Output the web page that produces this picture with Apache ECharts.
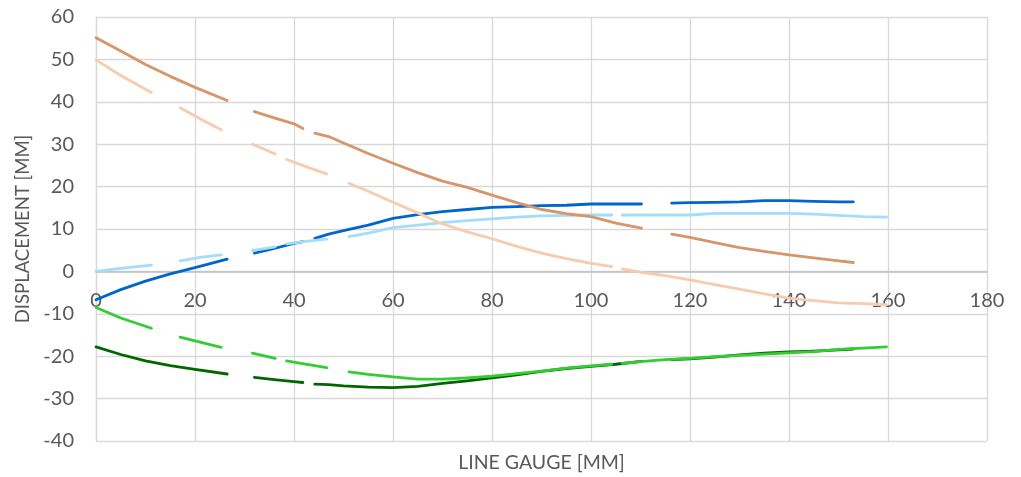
<!DOCTYPE html>
<html>
<head>
<meta charset="utf-8">
<script src="https://cdn.jsdelivr.net/npm/echarts@6/dist/echarts.min.js"></script>
<style>
  html, body { margin: 0; padding: 0; background: #ffffff; }
  #chart { width: 1021px; height: 477px; }
</style>
</head>
<body>
<div id="chart"></div>
<script>
// x positions (mm) for the dark-coloured gauges; null entries in y arrays mark gaps
const xDark = [0, 5, 10, 15, 20, 26.5, 29, 32, 36, 40, 41.8, 43, 44.2, 47, 50, 55, 60, 65, 70, 75, 80, 85, 90, 95, 100, 105, 110.2, 113, 116.3, 120, 125, 130, 135, 140, 145, 150, 153];
const yOrange = [55.1, 52, 48.8, 46, 43.4, 40.3, null, 37.7, 36.2, 34.8, 33.7, null, 32.6, 31.8, 30.3, 27.8, 25.5, 23.3, 21.3, 19.8, 18.0, 16.2, 14.6, 13.6, 12.9, 11.4, 10.2, null, 8.8, 8.0, 6.8, 5.6, 4.7, 3.9, 3.2, 2.5, 2.1];
const yBlue = [-6.7, -4.3, -2.3, -0.6, 0.9, 2.9, null, 4.3, 5.4, 6.6, 7.0, null, 7.8, 8.8, 9.6, 10.9, 12.5, 13.4, 14.1, 14.6, 15.1, 15.3, 15.5, 15.6, 15.9, 15.9, 15.9, null, 16.1, 16.2, 16.3, 16.4, 16.7, 16.7, 16.5, 16.4, 16.4];
const yDarkGreen = [-17.8, -19.6, -21.1, -22.2, -23.1, -24.2, null, -25.0, -25.5, -26.0, -26.2, null, -26.6, -26.7, -27.0, -27.3, -27.4, -27.1, -26.4, -25.8, -25.1, -24.4, -23.6, -22.9, -22.4, -21.9, -21.2, null, -20.8, -20.6, -20.2, -19.7, -19.3, -19.0, -18.8, -18.5, -18.3];

// x positions (mm) for the light-coloured gauges
const xLight = [0, 5, 11.2, 14, 17, 21, 25.3, 28.5, 31.6, 34, 36.2, 37.3, 38.5, 42, 46.6, 49, 51.1, 55, 60, 65, 70, 75, 80, 85, 90, 95, 100, 104.2, 105.2, 106.3, 110, 115, 120, 125, 130, 135, 140, 145, 150, 155, 159.7];
const yLightOrange = [49.9, 46.2, 42.2, null, 38.6, 36, 33.4, null, 30.0, 28.8, 27.7, null, 26.4, 24.9, 23.0, null, 20.8, 18.9, 16.3, 13.8, 11.2, 9.3, 7.7, 5.9, 4.3, 3.0, 1.9, 1.1, null, 0.6, -0.2, -1.0, -2.0, -3.1, -4.2, -5.3, -6.3, -6.9, -7.4, -7.6, -7.9];
const yLightBlue = [0, 0.7, 1.5, null, 2.5, 3.3, 3.9, null, 4.9, 5.4, 5.8, null, 6.5, 7.0, 7.6, null, 8.2, 9.0, 10.3, 10.9, 11.5, 12.0, 12.4, 12.8, 13.1, 13.2, 13.3, 13.3, null, 13.3, 13.3, 13.3, 13.3, 13.7, 13.7, 13.7, 13.7, 13.5, 13.2, 12.9, 12.8];
const yGreen = [-8.5, -11.0, -13.4, null, -15.5, -16.7, -17.9, null, -19.3, -19.9, -20.5, null, -21.1, -21.8, -22.7, null, -23.7, -24.3, -24.9, -25.4, -25.4, -25.1, -24.7, -24.1, -23.5, -22.8, -22.3, -21.9, null, -21.7, -21.3, -20.8, -20.5, -20.1, -19.8, -19.5, -19.2, -18.9, -18.4, -18.1, -17.8];

const xTitle = 'LINE GAUGE [MM]';
const yTitle = 'DISPLACEMENT [MM]';

function pts(xs, ys) {
  return xs.map((x, i) => [x, ys[i] === null ? '-' : ys[i]]);
}

const FONT = 'Lato';
const TXT = '#595959';

function line(name, xs, ys, color) {
  return {
    name: name,
    type: 'line',
    data: pts(xs, ys),
    showSymbol: false,
    symbol: 'none',
    connectNulls: false,
    animation: false,
    lineStyle: { color: color, width: 2.8, cap: 'round', join: 'round' },
    itemStyle: { color: color }
  };
}

// grid geometry: zero line sits 60% down the plot height
const GRID_TOP = 17, GRID_BOTTOM = 36, H = 477;
const plotH = H - GRID_TOP - GRID_BOTTOM;
const zeroOffset = -(plotH * 40 / 100);

const chart = echarts.init(document.getElementById('chart'), null, { renderer: 'canvas' });
chart.setOption({
  backgroundColor: '#ffffff',
  animation: false,
  grid: { left: 96, right: 34, top: GRID_TOP, bottom: GRID_BOTTOM, containLabel: false, outerBoundsMode: 'none' },
  xAxis: {
    type: 'value',
    min: 0, max: 180, interval: 20,
    offset: zeroOffset,
    name: xTitle,
    nameLocation: 'middle',
    nameGap: 181,
    nameTextStyle: { fontFamily: FONT, fontSize: 19.5, color: TXT },
    axisLine: { show: true, onZero: false, lineStyle: { color: '#bfbfbf', width: 1.5 } },
    axisTick: { show: false },
    axisLabel: { fontFamily: FONT, fontSize: 20, color: TXT, margin: 19 },
    splitLine: { show: true, lineStyle: { color: '#d9d9d9', width: 1.3 } }
  },
  yAxis: {
    type: 'value',
    min: -40, max: 60, interval: 10,
    name: yTitle,
    nameLocation: 'middle',
    nameGap: 63,
    nameTextStyle: { fontFamily: FONT, fontSize: 18.5, color: TXT },
    axisLine: { show: true, lineStyle: { color: '#d9d9d9', width: 1.3 } },
    axisTick: { show: false },
    axisLabel: { fontFamily: FONT, fontSize: 20, color: TXT, margin: 22 },
    splitLine: { show: true, lineStyle: { color: '#d9d9d9', width: 1.3 } }
  },
  series: [
    line('G1', xDark, yBlue, '#0066CC'),
    line('G2', xLight, yLightBlue, '#A3DDF9'),
    line('G3', xDark, yOrange, '#D6956A'),
    line('G4', xLight, yLightOrange, '#F7CBAE'),
    line('G5', xDark, yDarkGreen, '#006600'),
    line('G6', xLight, yGreen, '#33CC33')
  ]
});
</script>
</body>
</html>
